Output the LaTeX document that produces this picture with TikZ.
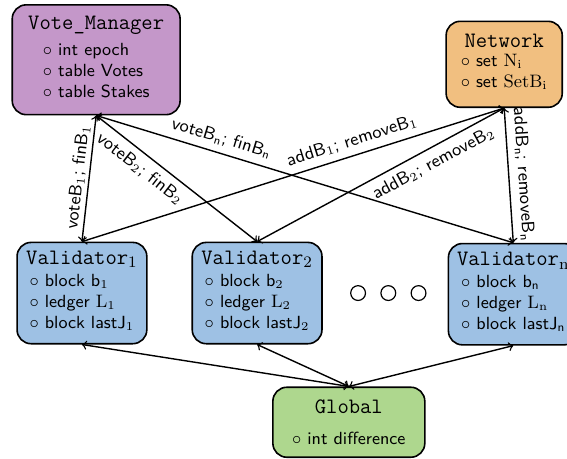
\documentclass[tikz,border=0pt]{standalone}
\usetikzlibrary{positioning}

\definecolor{managercol}{RGB}{196,151,201}
\definecolor{networkcol}{RGB}{241,191,128}
\definecolor{validatorcol}{RGB}{158,193,228}
\definecolor{globalcol}{RGB}{174,215,142}

\newcommand{\classname}[1]{{\ttfamily\fontsize{11}{13}\selectfont #1}}

\begin{document}
\begin{tikzpicture}[
  font=\sffamily\fontsize{9}{10.5}\selectfont,
  class/.style={rectangle, draw, thick, rounded corners=7pt, align=center, inner sep=2pt,
    font=\sffamily\fontsize{8.8}{10.5}\selectfont},
  validator/.style={class, fill=validatorcol, minimum width=2.28cm, minimum height=1.78cm},
  ellipsisdot/.style={circle, draw, semithick, minimum size=0.26cm, inner sep=0pt},
  relation/.style={<->, >=to, line width=0.7pt}
]
\useasboundingbox (0,0) rectangle (9.964,-8.066);

% Clases
\node[class, fill=managercol, minimum width=2.95cm, minimum height=1.93cm] (manager) at (1.69,-1.05) {\classname{Vote\_Manager}\\[2pt]
  \begin{tabular}{@{}l@{}}
  $\circ$ int epoch\\
  $\circ$ table Votes\\
  $\circ$ table Stakes
  \end{tabular}};
\node[class, fill=networkcol, minimum width=2.04cm, minimum height=1.51cm] (network) at (8.86,-1.13) {\classname{Network}\\[1pt]
  \begin{tabular}{@{}l@{}}
  $\circ$ set $\mathrm{N}_\mathrm{i}$\\
  $\circ$ set $\mathrm{SetB}_\mathrm{i}$
  \end{tabular}};
\node[validator] (val1) at (1.44,-5.15) {\classname{Validator$_1$}\\[1pt]
  \begin{tabular}{@{}l@{}}
  $\circ$ block b$_1$\\
  $\circ$ ledger $\mathrm{L}_1$\\
  $\circ$ block lastJ$_1$
  \end{tabular}};
\node[validator, right=0.77cm of val1] (val2) {\classname{Validator$_2$}\\[1pt]
  \begin{tabular}{@{}l@{}}
  $\circ$ block b$_2$\\
  $\circ$ ledger $\mathrm{L}_2$\\
  $\circ$ block lastJ$_2$
  \end{tabular}};
\node[validator] (valn) at (9.02,-5.17) {\classname{Validator$_\mathrm{n}$}\\[1pt]
  \begin{tabular}{@{}l@{}}
  $\circ$ block b\textsubscript{n}\\
  $\circ$ ledger $\mathrm{L}_\mathrm{n}$\\
  $\circ$ block lastJ\textsubscript{n}
  \end{tabular}};
\node[class, fill=globalcol, minimum width=2.67cm, minimum height=1.23cm] (global) at (6.13,-7.42) {\classname{Global}\\[5pt]
  $\circ$ int difference};

% Puntos
\node[ellipsisdot, right=0.48cm of val2] (dot1) {};
\node[ellipsisdot, right=0.25cm of dot1] (dot2) {};
\node[ellipsisdot, right=0.25cm of dot2] (dot3) {};

% Relaciones
\draw[relation] (manager.south) -- (val1.north) node[midway, above, sloped, inner sep=1.5pt] {voteB$_1$; finB$_1$};
\draw[relation] (manager.south) -- (val2.north) node[pos=0.33, below, sloped] {voteB$_2$; finB$_2$};
\draw[relation] (manager.south) -- (valn.north) node[pos=0.29, above, sloped] {voteB\textsubscript{n}; finB\textsubscript{n}};
\draw[relation] (network.south) -- (val1.north) node[pos=0.35, above, sloped] {addB$_1$; removeB$_1$};
\draw[relation] (network.south) -- (val2.north) node[pos=0.315, below, sloped] {addB$_2$; removeB$_2$};
\draw[relation] (network.south) -- (valn.north) node[midway, above, sloped] {addB\textsubscript{n}; removeB\textsubscript{n}};
\draw[relation] (global.north) -- (val1.south);
\draw[relation] (global.north) -- (val2.south);
\draw[relation] (global.north) -- (valn.south);

\end{tikzpicture}
\end{document}
